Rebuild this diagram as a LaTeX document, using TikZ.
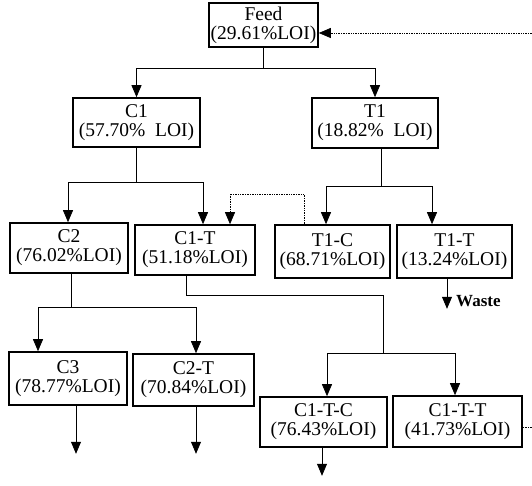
\documentclass[tikz,border=0pt]{standalone}
\usepackage{fontspec}
\setmainfont{Liberation Serif}
\usetikzlibrary{arrows.meta}
\begin{document}
\begin{tikzpicture}[x=1pt,y=-1pt,
  box/.style={draw,line width=1.6pt,inner sep=0pt,align=center,
    font=\fontsize{19.5}{19}\selectfont},
  link/.style={line width=0.8pt},
  arr/.style={link,-{Triangle[length=12pt,width=10pt]}},
  recyc/.style={line width=0.7pt,densely dotted}]
\useasboundingbox (0,0) rectangle (532,486);
\node[box,minimum width=109pt,minimum height=44pt] (feed) at (263.5,25) {Feed\\(29.61\%LOI)};
\node[box,minimum width=127pt,minimum height=49pt] (c1) at (136.5,122.5) {C1\\(57.70\%\hspace{0.5em}LOI)};
\node[box,minimum width=126pt,minimum height=50pt] (t1) at (375,123) {T1\\(18.82\%\hspace{0.5em}LOI)};
\node[box,minimum width=118pt,minimum height=50pt] (c2) at (69,248) {C2\\(76.02\%LOI)};
\node[box,minimum width=120pt,minimum height=50pt] (c1t) at (195,250) {C1-T\\(51.18\%LOI)};
\node[box,minimum width=115pt,minimum height=53pt] (t1c) at (332.5,251.5) {T1-C\\(68.71\%LOI)};
\node[box,minimum width=115pt,minimum height=53pt] (t1t) at (454.5,251.5) {T1-T\\(13.24\%LOI)};
\node[box,minimum width=118pt,minimum height=53pt] (c3) at (68,378.5) {C3\\(78.77\%LOI)};
\node[box,minimum width=121pt,minimum height=52pt] (c2t) at (193.5,380) {C2-T\\(70.84\%LOI)};
\node[box,minimum width=127pt,minimum height=50pt] (c1tc) at (323.5,422) {C1-T-C\\(76.43\%LOI)};
\node[box,minimum width=129pt,minimum height=51pt] (c1tt) at (457.5,421.5) {C1-T-T\\(41.73\%LOI)};
\node[font=\fontsize{17}{17}\selectfont\bfseries,anchor=west,inner sep=0pt] (waste) at (456,301) {Waste};
% junctions
\coordinate (j0) at (263.5,68);
\coordinate (j1) at (136.5,182);
\coordinate (j2) at (381,186);
\coordinate (j3) at (71,307);
\coordinate (j4a) at (186,295);
\coordinate (j4) at (383,353);
\coordinate (fin) at (532,33);
\coordinate (tout) at (532,427);
% feed
\draw[link] (feed.south) -- (j0);
\draw[arr] (j0) -| (c1.north);
\draw[arr] (j0) -| (t1.north);
% C1
\draw[link] (c1.south) -- (j1);
\draw[arr] (j1) -| ([xshift=-1pt]c2.north);
\draw[arr] (j1) -| ([xshift=8pt]c1t.north);
% T1
\draw[link] ([xshift=6pt]t1.south) -- (j2);
\draw[arr] (j2) -| ([xshift=-6.5pt]t1c.north);
\draw[arr] (j2) -| ([xshift=-22.5pt]t1t.north);
% recycle T1-C -> C1-T
\draw[recyc,-{Triangle[length=12pt,width=10pt]}] ([xshift=-28.5pt]t1c.north) -- ++(0,-30) -| ([xshift=35pt]c1t.north);
% waste
\draw[arr] ([xshift=-7.5pt]t1t.south) -- ++(0,30);
% C2
\draw[link] ([xshift=2pt]c2.south) -- (j3);
\draw[arr] (j3) -| ([xshift=-30pt]c3.north);
\draw[arr] (j3) -| ([xshift=2.5pt]c2t.north);
% C1-T
\draw[link] ([xshift=-9pt]c1t.south) |- (j4a) -| (j4);
\draw[arr] (j4) -| ([xshift=3.5pt]c1tc.north);
\draw[arr] (j4) -| ([xshift=-2.5pt]c1tt.north);
% outputs
\draw[arr] ([xshift=8pt]c3.south) -- ++(0,48);
\draw[arr] ([xshift=2.5pt]c2t.south) -- ++(0,47);
\draw[arr] ([xshift=-1.5pt]c1tc.south) -- ++(0,28);
% recycle lines
\draw[recyc] ([yshift=-5.5pt]c1tt.east) -- (tout);
\draw[recyc,-{Triangle[length=12pt,width=10pt]}] (fin) -- ([yshift=-8pt]feed.east);
\end{tikzpicture}
\end{document}
